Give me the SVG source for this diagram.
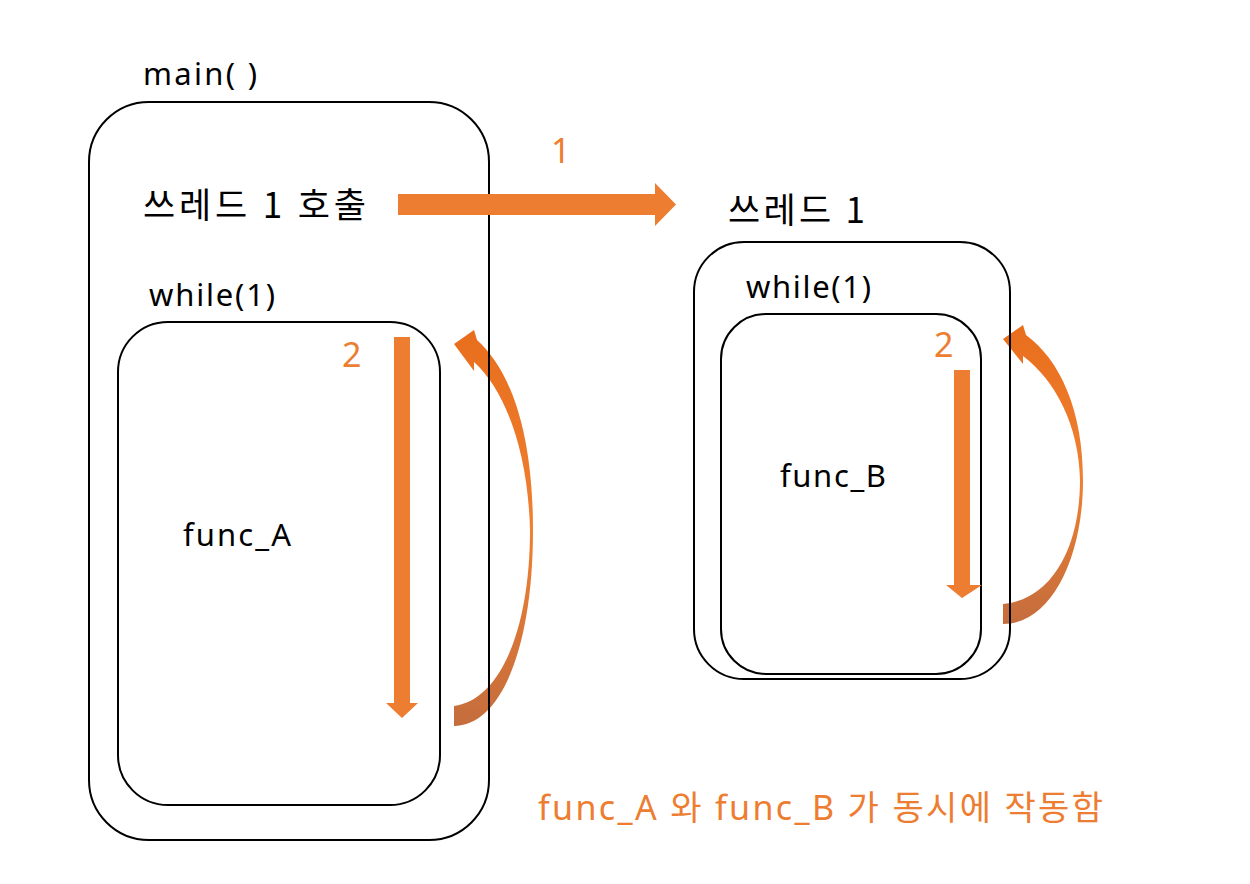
<svg xmlns="http://www.w3.org/2000/svg" width="1250" height="884" viewBox="0 0 1250 884">
<style>
.box{fill:none;stroke:#000;stroke-width:2}
.t{font-family:"Noto Sans","Noto Sans CJK KR",sans-serif;font-size:31px;fill:#000}
.k{font-family:"Noto Sans CJK KR","Noto Sans",sans-serif;font-size:35px;fill:#000}
.o{font-family:"Noto Sans","Noto Sans CJK KR",sans-serif;font-size:34px;fill:#ED7D31}
.arr{fill:#ED7D31}
</style>
<defs>
<linearGradient id="cg" x1="0" y1="0" x2="0" y2="1">
<stop offset="0" stop-color="#E86E1C"/>
<stop offset="0.5" stop-color="#EF8032"/>
<stop offset="1" stop-color="#C46D3D"/>
</linearGradient>
</defs>
<rect width="1250" height="884" fill="#fff"/>
<g id="connectors">
<path fill="url(#cg)" d="M454 706 L454 726 C500 726 533 650 533 530 C533 430 510 370 477 340 L474 330 L454 344 L474 371 L474 362 C505 390 528 450 530 530 C530 630 500 700 454 706 Z"/>
<path fill="url(#cg)" d="M1003 604 L1003 624 C1050 624 1083 560 1083 480 C1083 410 1060 360 1026 335 L1023 325 L1003 339 L1023 364 L1023 356 C1055 380 1079 425 1080 480 C1080 550 1050 600 1003 604 Z"/>
</g>
<g id="main">
<rect class="box" x="89" y="102" width="400" height="738" rx="60"/>
<text class="t" x="143" y="85" textLength="114">main( )</text>
<text class="k" x="143" y="218" textLength="223">쓰레드 1 호출</text>
</g>
<g id="whileA">
<rect class="box" x="118" y="322" width="322" height="483" rx="50"/>
<text class="t" x="149" y="306" textLength="126">while(1)</text>
<text class="t" x="183" y="546" textLength="108">func_A</text>
</g>
<g id="thread1">
<rect class="box" x="694" y="242" width="316" height="437" rx="50"/>
<text class="k" x="728" y="223" textLength="137">쓰레드 1</text>
</g>
<g id="whileB">
<rect class="box" x="721" y="314" width="260" height="360" rx="45"/>
<text class="t" x="746" y="298" textLength="125">while(1)</text>
<text class="t" x="780" y="487" textLength="106">func_B</text>
</g>
<g id="arrows">
<polygon class="arr" points="398,194 655,194 655,183 676,204.5 655,226 655,215 398,215"/>
<polygon class="arr" points="394,337 410,337 410,703 418,703 402,718 386,703 394,703"/>
<polygon class="arr" points="954,370 970,370 970,585 982,585 962,598 946,585 954,585"/>
</g>
<g id="labels">
<text class="o" x="551" y="163">1</text>
<text class="o" x="342" y="367">2</text>
<text class="o" x="934" y="357">2</text>
<text class="o" x="538" y="820" style="font-size:34px" textLength="565">func_A 와 func_B 가 동시에 작동함</text>
</g>
</svg>
